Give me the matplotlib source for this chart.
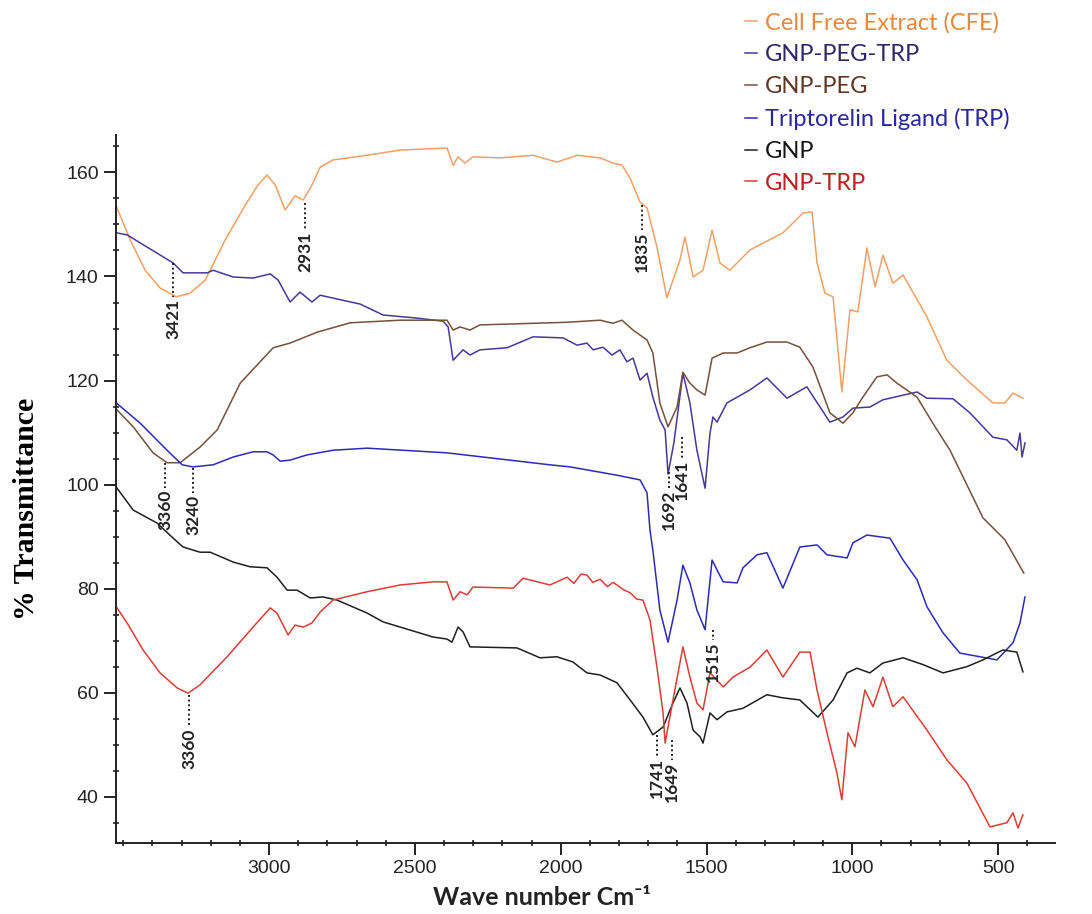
import matplotlib
matplotlib.use("Agg")
import matplotlib.pyplot as plt
from matplotlib.ticker import MultipleLocator, FixedLocator

plt.rcParams['font.family'] = ['Liberation Sans', 'DejaVu Sans']

# --- spectra (wave number, % transmittance) ---
cfe_wn = [3524, 3476, 3425, 3374, 3319, 3271, 3219, 3151, 3082, 3038, 3007, 2979, 2945, 2911, 2883,
          2853, 2825, 2781, 2664, 2551, 2390, 2369, 2352, 2328, 2301, 2208, 2095, 2013, 1944, 1865,
          1821, 1790, 1762, 1728, 1704, 1670, 1636, 1591, 1574, 1546, 1512, 1481, 1454, 1420, 1351,
          1238, 1169, 1138, 1121, 1094, 1066, 1036, 1008, 981, 950, 922, 895, 861, 826, 744,
          676, 607, 518, 477, 449, 415]
cfe_t = [153.5, 147.0, 141.2, 137.8, 136.1, 136.8, 139.3, 147.0, 153.7, 157.6, 159.5, 157.6, 152.8, 155.5, 154.7,
         157.6, 161.0, 162.4, 163.3, 164.3, 164.7, 161.4, 163.0, 161.8, 163.0, 162.8, 163.3, 162.0, 163.3, 162.8,
         161.8, 161.4, 158.9, 154.3, 153.2, 145.7, 135.9, 143.2, 147.6, 139.9, 141.2, 148.9, 142.6, 141.2, 145.1,
         148.4, 152.2, 152.4, 142.6, 136.8, 136.1, 117.8, 133.6, 133.2, 145.5, 138.0, 144.1, 138.7, 140.3, 132.2,
         123.9, 120.1, 115.7, 115.7, 117.6, 116.6]

pegtrp_wn = [3524, 3487, 3329, 3295, 3212, 3192, 3123, 3055, 2996, 2969, 2928, 2894, 2853, 2825, 2688,
             2609, 2493, 2403, 2386, 2369, 2335, 2311, 2277, 2184, 2095, 1992, 1944, 1910, 1889, 1855,
             1824, 1797, 1773, 1752, 1728, 1704, 1684, 1660, 1642, 1632, 1612, 1581, 1557, 1533, 1505,
             1488, 1478, 1464, 1443, 1430, 1351, 1293, 1224, 1156, 1077, 1032, 998, 940, 895, 778,
             744, 655, 597, 518, 470, 436, 425, 418, 408]
pegtrp_t = [148.4, 148.0, 142.6, 140.7, 140.7, 141.2, 139.9, 139.7, 140.5, 139.3, 135.1, 137.0, 135.1, 136.4, 134.7,
            132.6, 132.0, 131.4, 130.3, 123.9, 125.9, 124.9, 125.9, 126.3, 128.4, 128.2, 126.8, 127.2, 125.9, 126.4,
            124.9, 125.9, 123.6, 124.3, 120.1, 121.4, 116.8, 112.4, 110.5, 102.0, 108.0, 121.4, 115.7, 106.6, 99.3,
            109.9, 113.0, 112.0, 114.3, 115.7, 118.2, 120.5, 116.6, 118.8, 112.0, 113.0, 114.7, 114.9, 116.3, 117.8,
            116.6, 116.5, 113.8, 109.1, 108.6, 106.6, 109.9, 105.3, 108.0]

peg_wn = [3524, 3466, 3398, 3350, 3305, 3237, 3178, 3099, 2986, 2928, 2835, 2722, 2551, 2390, 2369,
          2345, 2311, 2277, 2095, 1978, 1865, 1821, 1790, 1752, 1704, 1684, 1660, 1632, 1601, 1581,
          1557, 1533, 1505, 1481, 1443, 1395, 1351, 1293, 1224, 1180, 1135, 1077, 1032, 998, 964,
          916, 881, 847, 778, 724, 665, 552, 477, 412]
peg_t = [114.5, 111.1, 106.1, 104.2, 104.2, 107.2, 110.5, 119.5, 126.3, 127.2, 129.3, 131.1, 131.6, 131.6, 129.7,
         130.3, 129.7, 130.7, 131.0, 131.2, 131.6, 131.0, 131.6, 129.7, 127.8, 125.3, 115.7, 111.1, 114.9, 121.6,
         119.5, 118.2, 117.2, 124.3, 125.3, 125.3, 126.3, 127.4, 127.4, 126.4, 122.6, 113.8, 111.8, 113.8, 116.8,
         120.7, 121.1, 119.5, 116.8, 111.8, 106.6, 93.6, 89.4, 83.0]

trp_wn = [3524, 3442, 3350, 3298, 3261, 3192, 3123, 3055, 3007, 2986, 2962, 2928, 2870, 2781, 2664,
          2390, 2037, 1968, 1807, 1728, 1704, 1694, 1684, 1660, 1632, 1601, 1581, 1557, 1533, 1505,
          1481, 1464, 1443, 1395, 1375, 1327, 1293, 1238, 1180, 1121, 1087, 1018, 998, 950, 871,
          826, 778, 744, 689, 631, 562, 504, 449, 425, 408]
trp_t = [115.7, 111.8, 106.6, 103.8, 103.4, 103.8, 105.3, 106.3, 106.3, 105.7, 104.5, 104.7, 105.7, 106.6, 107.0,
         106.1, 103.8, 103.4, 101.8, 100.9, 98.4, 91.3, 87.4, 75.9, 69.7, 77.8, 84.5, 81.1, 75.9, 72.1,
         85.5, 83.6, 81.3, 81.1, 84.0, 86.5, 86.9, 80.1, 88.0, 88.4, 86.5, 85.9, 88.8, 90.3, 89.7,
         85.5, 81.7, 76.5, 71.5, 67.6, 66.9, 66.3, 69.6, 73.4, 78.4]

gnp_wn = [3524, 3466, 3384, 3329, 3295, 3237, 3202, 3123, 3065, 3007, 2973, 2938, 2904, 2859, 2815,
          2767, 2664, 2609, 2438, 2390, 2373, 2352, 2335, 2311, 2150, 2071, 2013, 1958, 1910, 1865,
          1807, 1762, 1718, 1684, 1649, 1615, 1591, 1567, 1546, 1522, 1512, 1488, 1464, 1430, 1375,
          1293, 1238, 1180, 1118, 1066, 1018, 984, 940, 895, 826, 758, 689, 607, 552, 484,
          436, 415]
gnp_t = [99.5, 95.1, 92.6, 89.7, 88.0, 87.0, 87.0, 85.1, 84.2, 84.0, 82.2, 79.7, 79.7, 78.2, 78.4,
         77.8, 75.3, 73.6, 70.7, 70.3, 69.7, 72.6, 71.7, 68.8, 68.6, 66.7, 66.9, 65.9, 63.8, 63.4,
         61.9, 58.6, 55.3, 51.9, 53.4, 58.0, 60.9, 58.0, 52.8, 51.5, 50.3, 56.1, 54.8, 56.3, 57.0,
         59.6, 59.0, 58.6, 55.3, 58.6, 63.8, 64.7, 63.8, 65.7, 66.7, 65.4, 63.8, 65.0, 66.3, 68.2,
         67.8, 64.0]

gnptrp_wn = [3524, 3487, 3432, 3374, 3315, 3278, 3237, 3144, 3055, 2996, 2973, 2935, 2911, 2883, 2853,
             2825, 2781, 2664, 2551, 2438, 2390, 2369, 2345, 2321, 2301, 2163, 2129, 2037, 1978, 1955,
             1930, 1910, 1890, 1865, 1840, 1820, 1807, 1785, 1762, 1740, 1718, 1694, 1670, 1649, 1642,
             1615, 1581, 1557, 1533, 1512, 1488, 1464, 1443, 1409, 1351, 1293, 1238, 1180, 1145, 1121,
             1087, 1053, 1036, 1015, 991, 957, 929, 895, 861, 826, 744, 676, 607, 528, 470,
             449, 432, 415]
gnptrp_t = [76.5, 73.4, 68.2, 63.8, 60.9, 59.9, 61.5, 66.9, 72.6, 76.3, 75.3, 71.1, 73.0, 72.6, 73.4,
            75.5, 77.8, 79.4, 80.7, 81.3, 81.3, 77.8, 79.4, 78.8, 80.3, 80.1, 82.0, 80.7, 82.2, 81.0,
            82.8, 82.6, 81.2, 81.8, 80.4, 81.2, 80.7, 79.8, 79.2, 78.0, 77.8, 74.0, 64.9, 56.1, 50.3,
            58.6, 68.8, 63.0, 58.0, 56.7, 63.8, 62.4, 61.1, 63.0, 64.9, 68.2, 63.0, 67.8, 67.8, 60.5,
            52.3, 44.6, 39.4, 52.3, 49.6, 60.5, 57.3, 63.0, 57.3, 59.2, 52.8, 47.1, 42.6, 34.2, 35.0,
            36.9, 34.0, 36.5]

labels = ["Cell Free Extract (CFE)", "GNP-PEG-TRP", "GNP-PEG", "Triptorelin Ligand (TRP)", "GNP", "GNP-TRP"]
colors = ["#F2A066", "#46389A", "#76503A", "#2B2BB8", "#1F1F1F", "#DC3D35"]
text_colors = ["#E8883F", "#2E2668", "#5E3622", "#2A27A0", "#151515", "#BC2020"]
series = [(cfe_wn, cfe_t), (pegtrp_wn, pegtrp_t), (peg_wn, peg_t),
          (trp_wn, trp_t), (gnp_wn, gnp_t), (gnptrp_wn, gnptrp_t)]

# peak labels: text, wave number, top of dotted line, bottom of dotted line
peaks = [("3421", 3329, 142.6, 136.1), ("2931", 2877, 154.1, 148.9), ("1835", 1721, 153.7, 148.9),
         ("3360", 3356, 104.2, 99.3), ("3240", 3261, 103.2, 98.4), ("3360", 3274, 59.5, 53.4),
         ("1692", 1629, 102.5, 99.3), ("1641", 1584, 109.1, 105.1), ("1741", 1670, 51.9, 47.7),
         ("1649", 1618, 50.9, 47.1), ("1515", 1478, 72.1, 70.2)]

fig = plt.figure(figsize=(10.92, 9.14), dpi=100)
ax = fig.add_axes([116 / 1092, 1 - 843 / 914, (1055 - 116) / 1092, (843 - 135) / 914])

handles = []
for (x, y), lab, c in zip(series, labels, colors):
    h, = ax.plot(x, y, color=c, lw=1.1, label=lab)
    handles.append(h)

for lab, x, y1, y2 in peaks:
    ax.plot([x, x], [y1, y2], ls=(0, (1, 1.4)), color="#222222", lw=1.4)
    ax.text(x, y2 - 0.3, lab, rotation=90, ha="center", va="top", fontsize=12.5,
            fontweight="bold", family=["Lato", "DejaVu Sans"], color="#222222")

ax.set_xlim(3525, 305)
ax.set_ylim(31.1, 167.2)
ax.xaxis.set_major_locator(FixedLocator([3000, 2500, 2000, 1500, 1000, 500]))
ax.xaxis.set_minor_locator(MultipleLocator(100))
ax.yaxis.set_major_locator(FixedLocator([40, 60, 80, 100, 120, 140, 160]))
ax.yaxis.set_minor_locator(MultipleLocator(5))

for s in ["top", "right"]:
    ax.spines[s].set_visible(False)
for s in ["left", "bottom"]:
    ax.spines[s].set_linewidth(1.4)
    ax.spines[s].set_color("#222222")

ax.tick_params(which="major", direction="out", length=8.5, width=1.4, labelsize=14,
               colors="#222222", pad=4)
ax.tick_params(which="minor", direction="inout", length=5, width=1.2, colors="#222222")

fig.text(0.024, 0.443, "% Transmittance", rotation=90, ha="center", va="center",
         fontsize=21.5, fontweight="bold", family="Liberation Serif")
fig.text(0.496, 0.018, "Wave number Cm\u207b\u00b9", ha="center", va="center",
         fontsize=18, fontweight="bold", family=["Lato", "DejaVu Sans"], color="#222222")

leg = fig.legend(handles, labels, loc="upper left", bbox_to_anchor=(733 / 1092, 1.0),
                 frameon=False, handlelength=0.5, handletextpad=0.34, labelspacing=0.46,
                 borderaxespad=0.1, prop={"family": ["Lato", "DejaVu Sans"], "size": 17})
for t, c in zip(leg.get_texts(), text_colors):
    t.set_color(c)

fig.savefig("out.png", dpi=100, facecolor="white")
